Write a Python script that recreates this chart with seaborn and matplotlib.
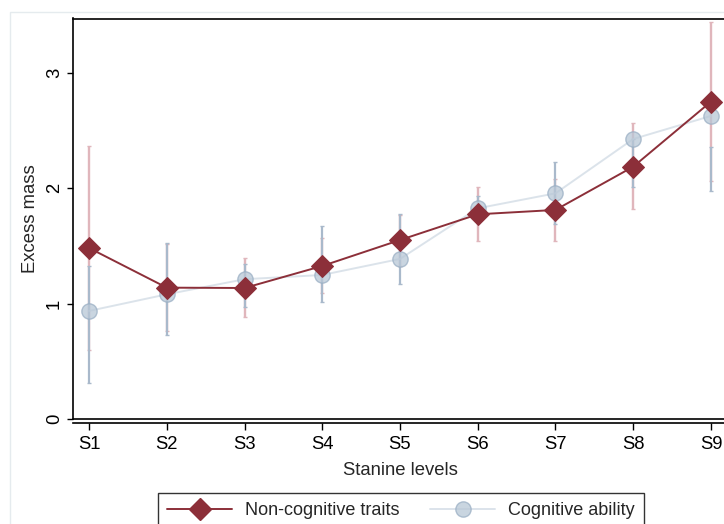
import numpy as np
import pandas as pd
import matplotlib
matplotlib.use("Agg")
import matplotlib.pyplot as plt
from matplotlib.lines import Line2D
from matplotlib.patches import Rectangle
import seaborn as sns

# ---- data ----
levels = ["S1", "S2", "S3", "S4", "S5", "S6", "S7", "S8", "S9"]
noncog = [1.483, 1.139, 1.136, 1.327, 1.552, 1.775, 1.813, 2.188, 2.752]
noncog_lo = [0.598, 0.76, 0.882, 1.09, 1.33, 1.544, 1.544, 1.819, 2.066]
noncog_hi = [2.368, 1.52, 1.394, 1.57, 1.77, 2.015, 2.08, 2.565, 3.44]
cog = [0.937, 1.081, 1.212, 1.249, 1.388, 1.827, 1.957, 2.428, 2.628]
cog_lo = [0.31, 0.729, 0.975, 1.012, 1.171, 1.70, 1.69, 2.01, 1.98]
cog_hi = [1.327, 1.529, 1.34, 1.674, 1.778, 1.93, 2.226, 2.43, 2.362]
yticks = [0, 1, 2, 3]

sns.set_style("white")
plt.rcParams["font.family"] = ["Liberation Sans", "DejaVu Sans"]

pos = np.arange(1, len(levels) + 1)
df = pd.DataFrame({"pos": pos, "level": levels, "noncog": noncog, "cog": cog,
                   "nlo": noncog_lo, "nhi": noncog_hi, "clo": cog_lo, "chi": cog_hi})

RED = "#8c2f39"
PINK = "#e0b6bc"
BLUE_BAR = "#a9b9cb"
BLUE_LINE = "#d0dae4"
BLUE_FILL = "#b8c7d6"
BLUE_EDGE = "#9aafc4"
FS = 13.3

fig = plt.figure(figsize=(7.24, 5.24), dpi=100)
fig.patch.set_facecolor("white")
# faint outer graph-region frame
fig.add_artist(Rectangle((10 / 724, -0.1), 1.2, (524 - 12) / 524 + 0.1,
                         transform=fig.transFigure, fill=False,
                         edgecolor="#e5ebee", lw=1.0))

ax = fig.add_axes([73 / 724, (524 - 419) / 524, (727 - 73) / 724, (419 - 18.5) / 524])

# error bars (range caps)
ax.vlines(df["pos"], df["nlo"], df["nhi"], color=PINK, lw=1.7, zorder=2)
ax.plot(np.r_[df["pos"], df["pos"]], np.r_[df["nlo"], df["nhi"]], ls="none",
        marker="_", markersize=3, color=PINK, mew=1.0, zorder=2)
ax.vlines(df["pos"], df["clo"], df["chi"], color=BLUE_BAR, lw=1.6, zorder=3)
ax.plot(np.r_[df["pos"], df["pos"]], np.r_[df["clo"], df["chi"]], ls="none",
        marker="_", markersize=3, color=BLUE_BAR, mew=1.0, zorder=3)

# lines
sns.lineplot(data=df, x="pos", y="cog", ax=ax, color=BLUE_LINE, lw=1.4,
             marker="o", markersize=11, markerfacecolor=BLUE_FILL,
             markeredgecolor=BLUE_EDGE, markeredgewidth=1.0, alpha=0.75, zorder=4)
sns.lineplot(data=df, x="pos", y="noncog", ax=ax, color=RED, lw=1.4,
             marker="D", markersize=11.5, markerfacecolor=RED,
             markeredgecolor=RED, zorder=5)

ax.set_xlim(0.794, 9.206)
ax.set_ylim(0, 3.473)
ax.set_xticks(pos)
ax.set_xticklabels(levels)
ax.set_yticks(yticks)
ax.set_yticklabels([str(t) for t in yticks], rotation=90, va="center")

for s in ["top", "left", "bottom", "right"]:
    ax.spines[s].set_color("black")
    ax.spines[s].set_linewidth(1.2)
ax.spines["bottom"].set_position(("outward", 3))
ax.axhline(0, color="black", lw=1.2, clip_on=False, zorder=6)

ax.tick_params(axis="x", bottom=True, length=5, width=1.0, pad=4, labelsize=FS, colors="black")
ax.tick_params(axis="y", left=True, length=4.3, width=1.0, pad=3, labelsize=FS, colors="black")
ax.grid(False)

ax.set_xlabel("Stanine levels", fontsize=FS, labelpad=7)
ax.set_ylabel("Excess mass", fontsize=FS, labelpad=5)

handles = [
    Line2D([], [], color=RED, lw=1.4, marker="D", markersize=11.5,
           markerfacecolor=RED, markeredgecolor=RED),
    Line2D([], [], color=BLUE_LINE, lw=1.4, marker="o", markersize=11,
           markerfacecolor=BLUE_FILL, markeredgecolor=BLUE_EDGE, alpha=0.75),
]
leg = fig.legend(handles, ["Non-cognitive traits", "Cognitive ability"],
                 loc="upper center", bbox_to_anchor=(401 / 724, (524 - 493) / 524),
                 borderaxespad=0,
                 ncol=2, frameon=True, fancybox=False, fontsize=13,
                 handlelength=3.6, columnspacing=1.7, handletextpad=0.7,
                 borderpad=0.5)
leg.get_frame().set_edgecolor("black")
leg.get_frame().set_linewidth(1.0)

fig.savefig("out.png", dpi=100)
